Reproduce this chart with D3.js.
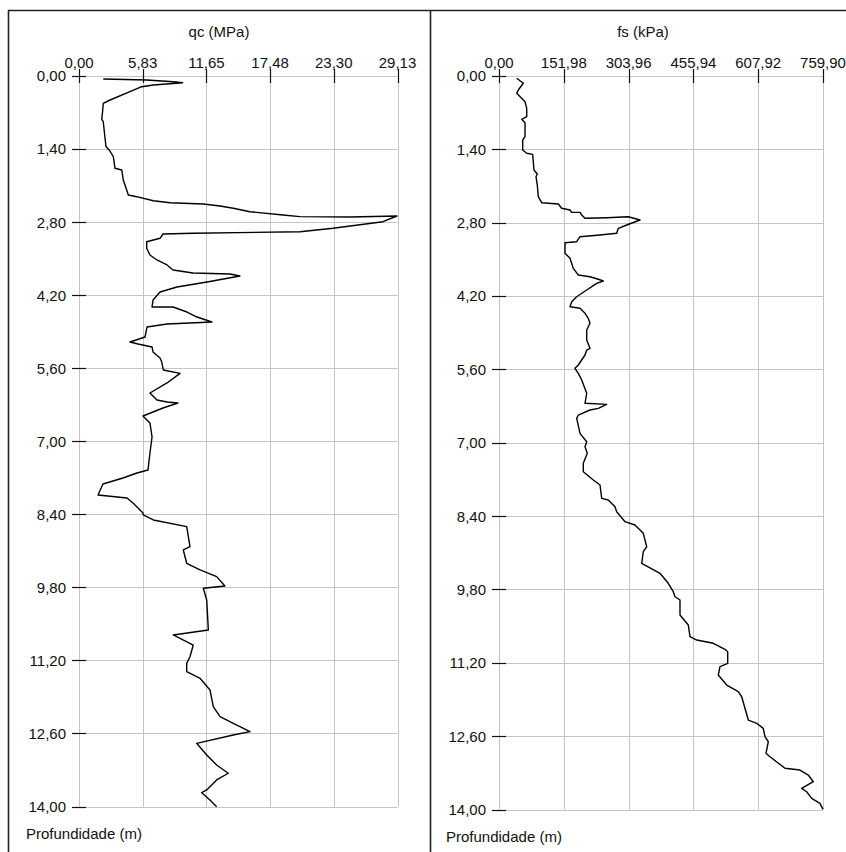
<!DOCTYPE html>
<html>
<head>
<meta charset="utf-8">
<script src="https://cdn.jsdelivr.net/npm/d3@7"></script>
<style>
  html, body { margin: 0; padding: 0; background: #fff; }
  svg { display: block; }
  text { font-family: "Liberation Sans", Arial, sans-serif; font-size: 15px; fill: #111; }
</style>
</head>
<body>
<svg id="chart" width="846" height="852"></svg>
<script>
// ---------- DATA ----------
const depthTicks = [0, 1.4, 2.8, 4.2, 5.6, 7.0, 8.4, 9.8, 11.2, 12.6, 14.0];
const depthTickLabels = ["0,00", "1,40", "2,80", "4,20", "5,60", "7,00", "8,40", "9,80", "11,20", "12,60", "14,00"];

const qcTicks = [0, 5.826, 11.652, 17.478, 23.304, 29.13];
const qcTickLabels = ["0,00", "5,83", "11,65", "17,48", "23,30", "29,13"];

const fsTicks = [0, 151.98, 303.96, 455.94, 607.92, 759.90];
const fsTickLabels = ["0,00", "151,98", "303,96", "455,94", "607,92", "759,90"];

// qc (MPa) vs depth (m)
const qcDepth = [0.058, 0.077, 0.109, 0.128, 0.172, 0.205, 0.301, 0.460, 0.523, 0.652, 0.830, 0.876,
  1.194, 1.355, 1.418, 1.547, 1.769, 1.801, 1.993, 2.185, 2.281, 2.313, 2.390, 2.428, 2.453, 2.491,
  2.535, 2.601, 2.664, 2.696, 2.702, 2.683, 2.792, 2.919, 2.984, 3.015, 3.028, 3.110, 3.176, 3.302,
  3.430, 3.526, 3.622, 3.718, 3.775, 3.795, 3.833, 3.948, 4.044, 4.140, 4.293, 4.427, 4.427, 4.523,
  4.619, 4.714, 4.753, 4.810, 5.002, 5.098, 5.136, 5.193, 5.289, 5.404, 5.475, 5.634, 5.698, 5.883,
  6.075, 6.209, 6.248, 6.267, 6.363, 6.516, 6.650, 6.918, 7.225, 7.551, 7.608, 7.704, 7.819, 8.030,
  8.087, 8.183, 8.375, 8.413, 8.509, 8.637, 9.021, 9.084, 9.339, 9.467, 9.595, 9.774, 9.818, 10.042,
  10.617, 10.713, 10.905, 11.129, 11.255, 11.416, 11.543, 11.767, 12.087, 12.279, 12.405, 12.566,
  12.629, 12.789, 13.012, 13.204, 13.363, 13.491, 13.683, 13.735, 13.875, 14.003];
const qcValue = [2.22, 6.19, 8.62, 9.48, 6.80, 5.73, 4.66, 2.84, 2.22, 2.17, 2.08, 2.22,
  2.38, 2.47, 2.77, 3.14, 3.29, 3.91, 4.05, 4.36, 4.51, 5.28, 6.80, 8.32, 11.37, 12.90,
  14.11, 15.64, 18.66, 20.21, 24.78, 29.08, 27.80, 23.23, 20.21, 10.43, 7.68, 7.41, 6.19, 6.19,
  6.49, 7.13, 8.05, 8.60, 10.43, 13.81, 14.72, 11.71, 8.96, 7.41, 6.77, 6.68, 8.60, 9.88,
  10.79, 12.16, 8.05, 6.22, 6.04, 4.66, 5.40, 6.68, 6.77, 7.41, 7.56, 7.71, 9.24, 8.05,
  6.49, 7.13, 8.05, 9.05, 7.68, 5.85, 6.49, 6.68, 6.49, 6.31, 5.30, 4.02, 2.19, 1.74,
  4.39, 4.94, 5.85, 5.88, 6.80, 9.85, 10.15, 9.54, 9.85, 11.07, 12.59, 13.35, 11.37, 11.68,
  11.83, 8.62, 10.45, 10.15, 9.85, 9.85, 11.07, 11.98, 12.28, 12.90, 14.11, 15.64,
  14.11, 10.76, 11.68, 12.59, 13.65, 12.59, 11.68, 11.22, 11.98, 12.59];

// fs (kPa) vs depth (m)
const fsDepth = [0.044, 0.139, 0.267, 0.330, 0.426, 0.491, 0.617, 0.777, 0.826, 0.891, 1.159, 1.222,
  1.412, 1.475, 1.495, 1.794, 1.871, 1.922, 2.081, 2.304, 2.418, 2.443, 2.525, 2.558, 2.602, 2.602,
  2.653, 2.716, 2.705, 2.686, 2.749, 2.844, 2.907, 3.002, 3.035, 3.067, 3.163, 3.182, 3.384, 3.480,
  3.671, 3.798, 3.831, 3.880, 3.913, 3.957, 4.085, 4.213, 4.308, 4.404, 4.434, 4.530, 4.625, 4.720,
  4.848, 5.039, 5.198, 5.230, 5.325, 5.516, 5.579, 5.675, 5.803, 6.057, 6.247, 6.267, 6.343, 6.375,
  6.471, 6.534, 6.820, 6.980, 7.076, 7.202, 7.393, 7.553, 7.711, 7.807, 8.061, 8.093, 8.221, 8.317,
  8.507, 8.570, 8.729, 8.985, 9.080, 9.301, 9.492, 9.683, 9.843, 9.939, 10.002, 10.288, 10.479,
  10.702, 10.765, 10.828, 10.943, 10.989, 11.210, 11.275, 11.434, 11.625, 11.752, 11.848, 12.293,
  12.355, 12.451, 12.611, 12.707, 12.928, 12.993, 13.214, 13.247, 13.342, 13.470, 13.596, 13.661,
  13.787, 13.882, 13.997];
const fsValue = [41.5, 57.0, 45.3, 41.5, 53.2, 61.0, 65.0, 65.0, 53.2, 61.0, 61.0, 55.6,
  55.6, 65.0, 79.0, 82.1, 89.8, 86.8, 89.8, 92.2, 100.1, 139.1, 147.0, 166.5, 170.5, 190.0,
  194.0, 201.7, 252.6, 303.2, 330.7, 299.5, 279.8, 276.0, 236.9, 190.0, 182.2, 154.8, 154.8, 166.5,
  174.2, 186.0, 213.4, 232.9, 244.6, 229.1, 205.7, 182.2, 170.5, 166.5, 190.0, 201.7, 209.4, 213.4,
  205.7, 205.7, 213.4, 205.7, 201.7, 186.0, 178.2, 186.0, 194.0, 205.7, 201.7, 252.6, 232.9, 213.4,
  186.0, 182.2, 190.0, 205.7, 201.7, 207.1, 197.7, 197.7, 221.2, 236.9, 240.9, 256.3, 272.0, 276.0,
  295.5, 318.9, 338.4, 346.4, 338.4, 334.7, 377.6, 397.0, 408.8, 412.8, 424.5, 424.5, 444.0,
  447.9, 463.7, 502.6, 530.0, 536.4, 536.4, 518.3, 514.3, 534.0, 561.2, 569.2, 584.7,
  604.4, 619.8, 623.8, 631.6, 626.2, 635.5, 670.7, 705.9, 725.4, 737.1, 709.9, 721.6,
  733.4, 752.8, 759.9];

// ---------- DRAW ----------
const svg = d3.select("#chart");
svg.append("rect").attr("width", 846).attr("height", 852).attr("fill", "#fff");

function panel(cfg) {
  const g = svg.append("g");
  const x = d3.scaleLinear().domain([cfg.ticks[0], cfg.ticks[cfg.ticks.length - 1]]).range([cfg.x0, cfg.x1]);
  const y = d3.scaleLinear().domain([0, 14]).range([cfg.y0, cfg.y1]);

  // grid
  g.selectAll(".vg").data(cfg.ticks).join("line")
    .attr("x1", d => Math.round(x(d)) + 0.5).attr("x2", d => Math.round(x(d)) + 0.5)
    .attr("y1", y(0)).attr("y2", y(14))
    .attr("stroke", "#c4c4c4").attr("stroke-width", 1);
  g.selectAll(".hg").data(depthTicks).join("line")
    .attr("x1", x.range()[0]).attr("x2", x.range()[1])
    .attr("y1", d => Math.round(y(d)) + 0.5).attr("y2", d => Math.round(y(d)) + 0.5)
    .attr("stroke", "#c4c4c4").attr("stroke-width", 1);

  // x ticks (crossing the top line)
  g.selectAll(".xt").data(cfg.ticks).join("line")
    .attr("x1", d => Math.round(x(d)) + 0.5).attr("x2", d => Math.round(x(d)) + 0.5)
    .attr("y1", y(0) - 7).attr("y2", y(0) + 7)
    .attr("stroke", "#111").attr("stroke-width", 1.2);
  // y ticks (crossing the left line)
  g.selectAll(".yt").data(depthTicks).join("line")
    .attr("x1", x.range()[0] - 7).attr("x2", x.range()[0] + 7)
    .attr("y1", d => Math.round(y(d)) + 0.5).attr("y2", d => Math.round(y(d)) + 0.5)
    .attr("stroke", "#111").attr("stroke-width", 1.2);

  // tick labels
  g.selectAll(".xl").data(cfg.ticks).join("text")
    .attr("x", d => x(d)).attr("y", y(0) - 8)
    .attr("text-anchor", "middle")
    .text((d, i) => cfg.labels[i]);
  g.selectAll(".yl").data(depthTicks).join("text")
    .attr("x", x.range()[0] - 13).attr("y", d => y(d)).attr("dy", "0.36em")
    .attr("text-anchor", "end")
    .text((d, i) => depthTickLabels[i]);

  // titles
  g.append("text").attr("x", cfg.titleX).attr("y", 37).attr("text-anchor", "middle").text(cfg.title);
  g.append("text").attr("x", cfg.x0 - 53).attr("y", cfg.y1 + 32).text("Profundidade (m)");

  // curve
  const pts = cfg.depth.map((d, i) => [cfg.value[i], d]);
  const line = d3.line().x(p => x(p[0])).y(p => y(p[1]));
  g.append("path").datum(pts).attr("d", line)
    .attr("fill", "none").attr("stroke", "#000").attr("stroke-width", 1.4)
    .attr("stroke-linejoin", "round");
}

panel({ ticks: qcTicks, labels: qcTickLabels, x0: 79, x1: 397.5, y0: 76, y1: 806.5,
        title: "qc (MPa)", titleX: 219, depth: qcDepth, value: qcValue });
panel({ ticks: fsTicks, labels: fsTickLabels, x0: 499, x1: 823, y0: 76, y1: 809.5,
        title: "fs (kPa)", titleX: 643, depth: fsDepth, value: fsValue });

// frame borders
svg.append("line").attr("x1", 8).attr("x2", 846).attr("y1", 10.5).attr("y2", 10.5).attr("stroke", "#222").attr("stroke-width", 1.6);
svg.append("line").attr("x1", 8.5).attr("x2", 8.5).attr("y1", 10).attr("y2", 852).attr("stroke", "#222").attr("stroke-width", 1.6);
svg.append("line").attr("x1", 430.5).attr("x2", 430.5).attr("y1", 10).attr("y2", 852).attr("stroke", "#222").attr("stroke-width", 1.6);
</script>
</body>
</html>
